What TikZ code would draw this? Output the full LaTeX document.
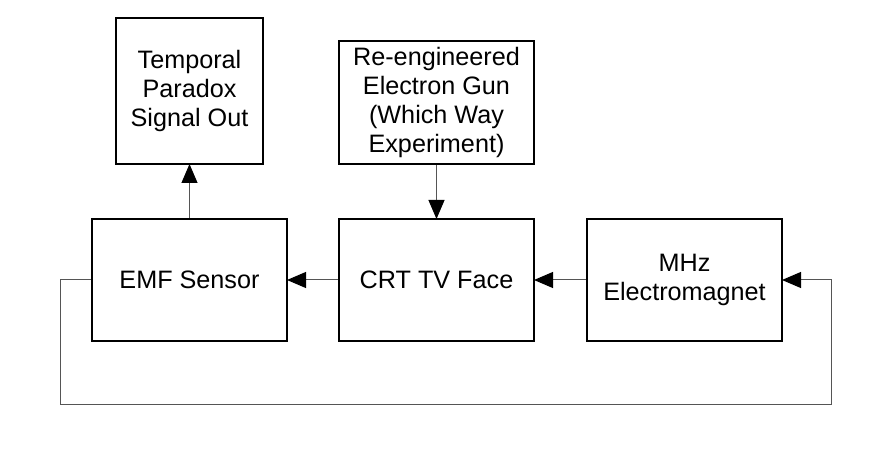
\documentclass[tikz,border=0pt]{standalone}
\usepackage{fontspec}
\setmainfont{Liberation Sans}
\usepackage{xcolor}
\usepackage{tikz}
\usetikzlibrary{arrows.meta,positioning}
\definecolor{linegray}{RGB}{85,85,85}

\begin{document}
\begin{tikzpicture}[
  node distance=26.5pt,
  block/.style={rectangle,draw=black,line width=1pt,align=center,
                minimum width=97.5pt,minimum height=61pt,
                font=\fontsize{12.6pt}{14.4pt}\selectfont},
  outbox/.style={block,minimum width=73pt,minimum height=73pt},
  arrow/.style={-{Triangle[length=9.5pt,width=8pt,color=black]},draw=linegray,
                line width=0.5pt,shorten >=-0.5pt}
]
\useasboundingbox (-94.75pt,-92pt) rectangle (343.75pt,140pt);
\node[block] (emf) at (0,0) {EMF Sensor};
\node[block,right=25pt of emf] (crt) {CRT TV Face};
\node[block,right=25.5pt of crt] (mhz) {MHz\\Electromagnet};
\node[outbox,above=of emf] (paradox) {Temporal\\Paradox\\Signal Out};
\node[block,above=of crt] (gun) {Re-engineered\\Electron Gun\\(Which Way\\Experiment)};
\draw[arrow] (emf) -- (paradox);
\draw[arrow] (gun) -- (crt);
\draw[arrow] (crt) -- (emf);
\draw[arrow] (mhz) -- (crt);
% feedback loop
\draw[arrow] (emf.west) -- ++(-15pt,0) -- ++(0,-62.5pt) -| ([xshift=24pt]mhz.east) -- (mhz.east);
\end{tikzpicture}
\end{document}
